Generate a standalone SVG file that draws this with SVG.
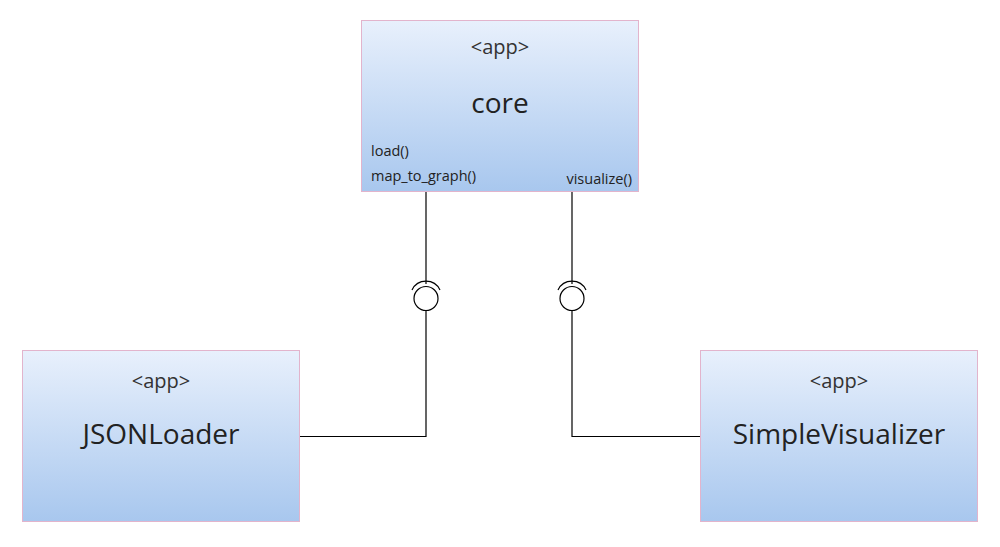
<svg xmlns="http://www.w3.org/2000/svg" width="1000" height="547" viewBox="0 0 1000 547">
<defs>
<linearGradient id="g" x1="0" y1="0" x2="0" y2="1">
<stop offset="0" stop-color="#e8f0fc"/>
<stop offset="1" stop-color="#a8c7ee"/>
</linearGradient>
</defs>
<style>
.box{fill:url(#g);stroke:#e2b4cc;stroke-width:1}
.st{font-family:"Open Sans","Noto Sans",sans-serif;font-size:20px;fill:#333;text-anchor:middle}
.nm{font-family:"Open Sans","Noto Sans",sans-serif;font-size:28px;fill:#222;text-anchor:middle}
.op{font-family:"Open Sans","Noto Sans",sans-serif;font-size:14.5px;fill:#222}
.ln{fill:none;stroke:#000;stroke-width:1.2}
</style>
<rect width="1000" height="547" fill="#fff"/>
<g id="connectors">
<path class="ln" d="M426 191V284"/>
<path class="ln" d="M412 290A15.5 15.5 0 0 1 440 290"/>
<circle class="ln" cx="426" cy="298.5" r="12"/>
<path class="ln" d="M426 310.5V436.5H299"/>
<path class="ln" d="M572 191V284"/>
<path class="ln" d="M558 290A15.5 15.5 0 0 1 586 290"/>
<circle class="ln" cx="572" cy="298.5" r="12"/>
<path class="ln" d="M572 310.5V436.5H700"/>
</g>
<g id="core">
<rect class="box" x="361.5" y="20.5" width="277" height="171"/>
<text class="st" x="500" y="54">&lt;app&gt;</text>
<text class="nm" x="500" y="113">core</text>
<text class="op" x="371" y="156">load()</text>
<text class="op" x="371" y="181">map_to_graph()</text>
<text class="op" x="632" y="184" text-anchor="end">visualize()</text>
</g>
<g id="JSONLoader">
<rect class="box" x="22.5" y="350.5" width="277" height="171"/>
<text class="st" x="161" y="388">&lt;app&gt;</text>
<text class="nm" x="161" y="444">JSONLoader</text>
</g>
<g id="SimpleVisualizer">
<rect class="box" x="700.5" y="350.5" width="277" height="171"/>
<text class="st" x="839" y="388">&lt;app&gt;</text>
<text class="nm" x="839" y="444">SimpleVisualizer</text>
</g>
</svg>
